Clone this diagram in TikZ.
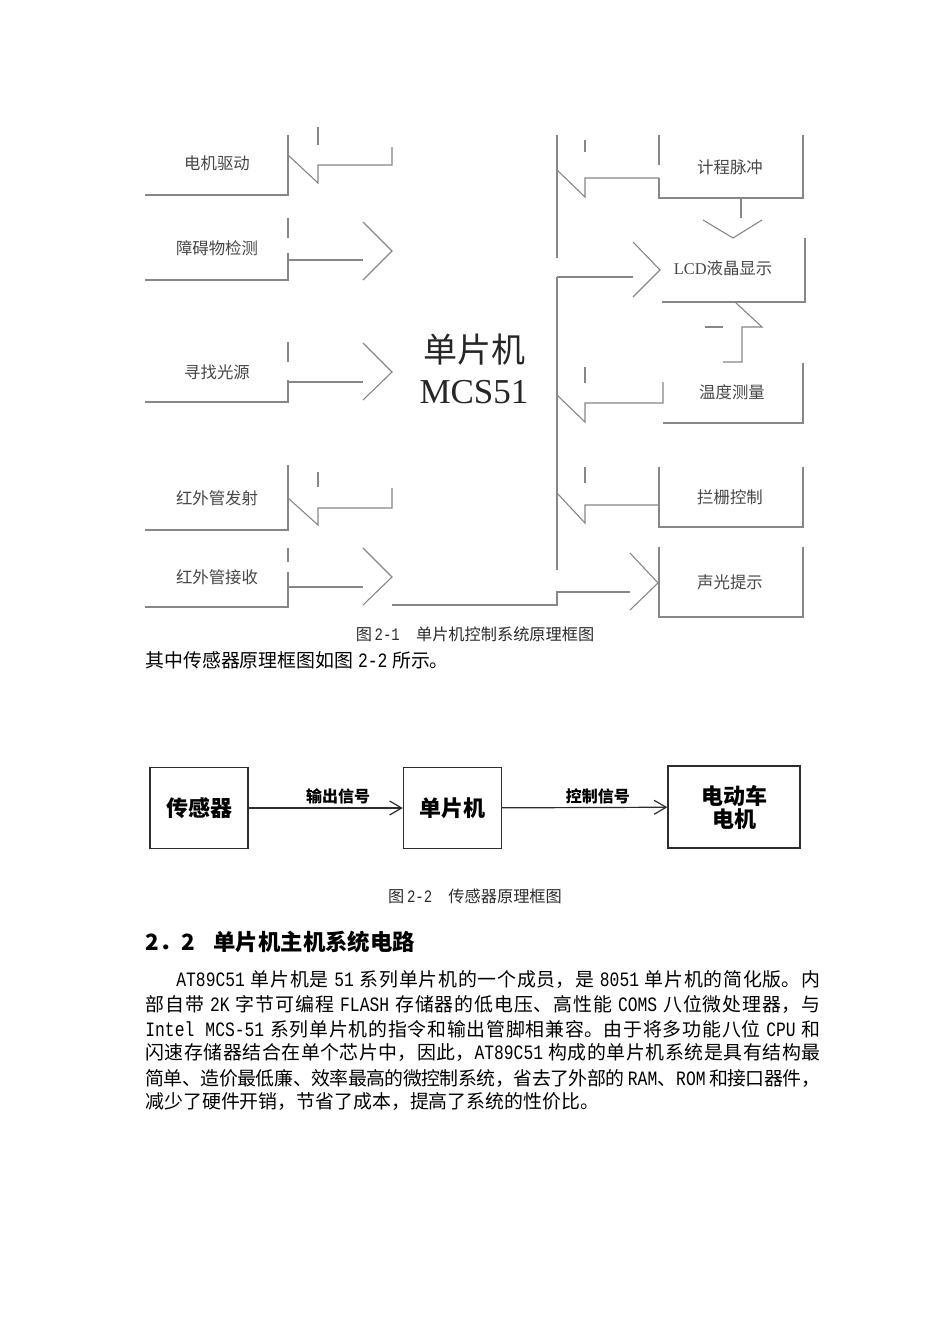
\documentclass[tikz,border=0pt]{standalone}
\usepackage{fontspec}
\setmainfont{Noto Sans CJK SC}
\newfontfamily\latfont[Scale=1.08,FakeStretch=0.8]{Liberation Mono}
\newfontfamily\serfont{Liberation Serif}
\usetikzlibrary{arrows.meta}
\definecolor{scan}{RGB}{135,135,135}
\definecolor{ink}{RGB}{45,45,45}
\XeTeXlinebreaklocale "zh"
\XeTeXlinebreakskip=0pt plus 1.5pt minus 0.5pt
\newcommand\en[1]{{\latfont #1}}
\newcommand\gap{\hskip.25em plus.2em minus.1em\relax}
\newcommand\bodyline[1]{\vbox{\hsize=337.5pt\parindent=0pt\leftskip=0pt\rightskip=0pt\parfillskip=0pt\relax #1\par}}

\begin{document}
\begin{tikzpicture}[x=0.5pt,y=-0.5pt,
  scanline/.style={draw=scan,line width=0.55pt},
  lbl/.style={text=black!72,font=\fontsize{8.2}{10}\selectfont},
  figcap/.style={text=ink,font=\fontsize{8.1}{10}\selectfont},
  body/.style={anchor=west,inner sep=0pt,font=\fontsize{9.45}{11}\selectfont},
  head/.style={anchor=west,inner sep=0pt,font=\bfseries\fontsize{11.2}{13}\selectfont},
  blk/.style={draw=ink,line width=0.7pt,minimum width=49pt,minimum height=40.5pt,
    align=center,font=\bfseries\fontsize{11}{11.5}\selectfont},
  sig/.style={draw=ink,line width=0.6pt,-{Straight Barb[length=6pt,width=7pt]}},
  sigtxt/.style={above,inner sep=1.5pt,pos=0.58,font=\bfseries\fontsize{8}{9}\selectfont}]
  \fill[white] (0,0) rectangle (950,1344);
  \useasboundingbox (0,0) rectangle (950,1344);

  % left column
  \draw[scanline] (145,195) -- (288,195) -- (288,135);
  \draw[scanline] (145,280) -- (288,280) -- (288,253);
  \draw[scanline] (288,238) -- (288,218);
  \draw[scanline] (145,402) -- (288,402) -- (288,380);
  \draw[scanline] (288,362) -- (288,342);
  \draw[scanline] (145,530) -- (288,530) -- (288,465);
  \draw[scanline] (145,607) -- (288,607) -- (288,572);
  \draw[scanline] (288,562) -- (288,548);
  \draw[scanline] (318,127) -- (318,145);
  \draw[scanline] (288,155) -- (318,183) -- (318,165) -- (392,165) -- (392,147);
  \draw[scanline] (288,260) -- (363,260);
  \draw[scanline] (363,222) -- (392,251) -- (363,280);
  \draw[scanline] (288,382) -- (363,382);
  \draw[scanline] (363,343) -- (392,372) -- (363,400);
  \draw[scanline] (318,472) -- (318,487);
  \draw[scanline] (288,498) -- (318,525) -- (318,508) -- (392,508) -- (392,488);
  \draw[scanline] (288,587) -- (363,587);
  \draw[scanline] (363,548) -- (392,577) -- (363,605);

  % centre block
  \draw[scanline] (392,605) -- (557,605) -- (557,592) -- (630,592);
  \draw[scanline] (630,553) -- (658,583) -- (630,610);
  \draw[scanline] (557,135) -- (557,258);
  \draw[scanline] (557,277) -- (557,570);

  % right column
  \draw[scanline] (659,135) -- (659,165);
  \draw[scanline] (659,178) -- (659,198) -- (803,198) -- (803,135);
  \draw[scanline] (585,140) -- (585,152);
  \draw[scanline] (557,170) -- (585,197) -- (585,178) -- (659,178);
  \draw[scanline] (741,198) -- (741,218);
  \draw[scanline] (703,220) -- (733,238) -- (762,220);
  \draw[scanline] (662,302) -- (805,302) -- (805,238);
  \draw[scanline] (557,277) -- (633,277);
  \draw[scanline] (633,242) -- (660,270) -- (633,297);
  \draw[scanline] (735,302) -- (762,327) -- (742,327) -- (742,362) -- (723,362);
  \draw[scanline] (705,327) -- (723,327);
  \draw[scanline] (585,367) -- (585,383);
  \draw[scanline] (557,395) -- (585,422) -- (585,403) -- (663,403) -- (663,382);
  \draw[scanline] (663,423) -- (803,423) -- (803,363);
  \draw[scanline] (585,467) -- (585,483);
  \draw[scanline] (557,493) -- (585,523) -- (585,505) -- (659,505);
  \draw[scanline] (659,467) -- (659,527) -- (803,527) -- (803,467);
  \draw[scanline] (659,547) -- (659,617) -- (803,617) -- (803,547);

  \node[lbl] (motor) at (217,163) {电机驱动};
  \node[lbl] (obstacle) at (217,248) {障碍物检测};
  \node[lbl] (seeklight) at (217,372) {寻找光源};
  \node[lbl] (irsend) at (217,498) {红外管发射};
  \node[lbl] (irrecv) at (217,577) {红外管接收};
  \node[text=black!85,font=\fontsize{17}{20}\selectfont] (mcuname) at (474,350) {单片机};
  \node[text=black!85,font=\serfont\fontsize{17.5}{20}\selectfont] (mcutype) at (474,392) {MCS51};
  \node[lbl] (odometer) at (730,167) {计程脉冲};
  \node[lbl] (lcd) at (723,268) {{\serfont LCD}液晶显示};
  \node[lbl] (temp) at (732,392) {温度测量};
  \node[lbl] (gate) at (730,497) {拦栅控制};
  \node[lbl] (alarm) at (730,582) {声光提示};

  \node[figcap] (cap1) at (475,634) {图\,\en{2-1}\quad 单片机控制系统原理框图};
  \node[body] (refline) at (145,660) {其中传感器原理框图如图\gap\en{2-2}\gap 所示。};

  % sensor chain
  \node[blk] (sensor) at (199,808) {传感器};
  \node[blk] (chip) at (452.5,808) {单片机};
  \node[blk,minimum width=66pt,minimum height=41pt] (drive) at (734,807) {电动车\\电机};
  \draw[sig] (sensor) -- node[sigtxt]{输出信号} (chip);
  \draw[sig] (chip) -- node[sigtxt]{控制信号} (drive);

  \node[figcap] (cap2) at (475,896) {图\,\en{2-2}\quad 传感器原理框图};

  \node[head] (secnum) at (145,942) {2．2};
  \node[head] (sectitle) at (213,942) {单片机主机系统电路};

  \node[body] (line1) at (145,980) {\bodyline{\hskip15.5pt\en{AT89C51}\gap 单片机是\gap\en{51}\gap 系列单片机的一个成员，是\gap\en{8051}\gap 单片机的简化版。内}};
  \node[body] (line2) at (145,1004) {\bodyline{部自带\gap\en{2K}\gap 字节可编程\gap\en{FLASH}\gap 存储器的低电压、高性能\gap\en{COMS}\gap 八位微处理器，与}};
  \node[body] (line3) at (145,1029) {\bodyline{\en{Intel MCS-51}\gap 系列单片机的指令和输出管脚相兼容。由于将多功能八位\gap\en{CPU}\gap 和}};
  \node[body] (line4) at (145,1053) {\bodyline{闪速存储器结合在单个芯片中，因此，\en{AT89C51}\gap 构成的单片机系统是具有结构最}};
  \node[body] (line5) at (145,1078) {\bodyline{简单、造价最低廉、效率最高的微控制系统，省去了外部的\gap\en{RAM}、\en{ROM}\gap 和接口器件，}};
  \node[body] (line6) at (145,1102) {减少了硬件开销，节省了成本，提高了系统的性价比。};
\end{tikzpicture}
\end{document}
